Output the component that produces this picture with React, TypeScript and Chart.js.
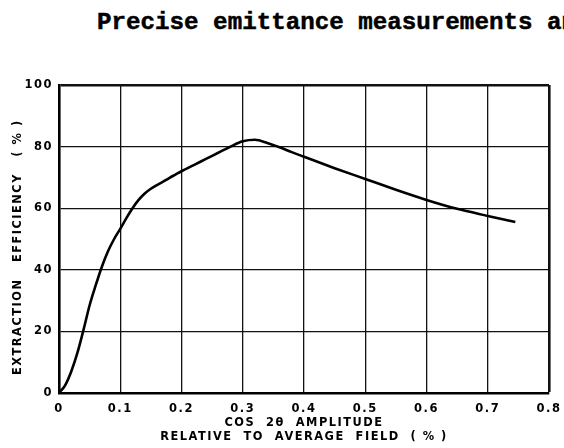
import { useEffect, useRef } from "react";
import { Chart, registerables } from "chart.js";

Chart.register(...registerables);

const titleText = "Precise emittance measurements and";
const xTicks = [0, 0.1, 0.2, 0.3, 0.4, 0.5, 0.6, 0.7, 0.8];
const yTicks = [0, 20, 40, 60, 80, 100];
const amplitude = [0, 0.01, 0.02, 0.03, 0.04, 0.05, 0.06, 0.07, 0.08, 0.09, 0.1, 0.11, 0.12, 0.13, 0.14, 0.15, 0.16, 0.17, 0.18, 0.19, 0.2, 0.22, 0.24, 0.26, 0.28, 0.3, 0.32, 0.34, 0.36, 0.38, 0.4, 0.45, 0.5, 0.55, 0.6, 0.65, 0.7, 0.745];
const efficiency = [0, 2.5, 7, 13, 20.5, 28.5, 35, 41, 46, 50, 53.3, 56.8, 60, 62.7, 64.8, 66.3, 67.5, 68.6, 69.8, 70.9, 72, 74, 76, 78, 80, 81.7, 82.2, 81.2, 79.8, 78.2, 76.7, 73, 69.5, 66, 62.7, 59.8, 57.5, 55.5];
const xTitle = ["COS  2θ  AMPLITUDE", "RELATIVE  TO  AVERAGE  FIELD  ( % )"];
const yTitle = "EXTRACTION   EFFICIENCY   ( % )   ";

const spacingPlugin = {
  id: "letterSpacingPlugin",
  beforeLayout(chart: any) {
    chart.ctx.letterSpacing = "1.5px";
  },
  beforeDraw(chart: any) {
    chart.ctx.letterSpacing = "1.5px";
  },
};

export default function App() {
  const ref = useRef<HTMLCanvasElement | null>(null);
  useEffect(() => {
    if (!ref.current) return;
    const tickFont = { family: "'DejaVu Sans', sans-serif", size: 11.5, weight: "bold" as const };
    const titleFont = { family: "'DejaVu Sans', sans-serif", size: 11.4, weight: "bold" as const, lineHeight: 1.2 };
    const chart = new Chart(ref.current, {
      type: "line",
      data: {
        datasets: [
          {
            data: amplitude.map((x, i) => ({ x, y: efficiency[i] })),
            borderColor: "#000",
            borderWidth: 2.6,
            pointRadius: 0,
            cubicInterpolationMode: "monotone",
            fill: false,
          },
        ],
      },
      options: {
        animation: false,
        responsive: false,
        layout: { padding: { top: 85, right: 15, bottom: 0, left: 0 } },
        plugins: { legend: { display: false }, tooltip: { enabled: false } },
        scales: {
          x: {
            type: "linear",
            min: xTicks[0],
            max: xTicks[xTicks.length - 1],
            afterBuildTicks: (s: any) => {
              s.ticks = xTicks.map((v) => ({ value: v }));
            },
            afterFit: (s: any) => {
              s.height = 55;
              s.paddingRight = 0;
              s.paddingLeft = 0;
            },
            ticks: {
              color: "#000",
              font: tickFont,
              padding: 9,
              maxRotation: 0,
              callback: (v: any) => (Number(v) === 0 ? "0" : Number(v).toFixed(1)),
            },
            grid: {
              color: "#111",
              lineWidth: (c: any) => (c.tick && c.tick.value >= 0.8 - 1e-9 ? 2.6 : 1.3),
              drawTicks: false,
            },
            border: { color: "#000", width: 2.6 },
            title: {
              display: true,
              text: xTitle,
              color: "#000",
              font: titleFont,
              padding: { top: 0, bottom: 4 },
            },
          },
          y: {
            type: "linear",
            min: yTicks[0],
            max: yTicks[yTicks.length - 1],
            afterBuildTicks: (s: any) => {
              s.ticks = yTicks.map((v) => ({ value: v }));
            },
            afterFit: (s: any) => {
              s.width = 59;
            },
            ticks: { color: "#000", font: tickFont, padding: 6 },
            grid: {
              color: "#111",
              lineWidth: (c: any) => (c.tick && c.tick.value >= 100 ? 2.6 : 1.3),
              drawTicks: false,
            },
            border: { color: "#000", width: 2.6 },
            title: {
              display: true,
              text: yTitle,
              color: "#000",
              font: titleFont,
              padding: { top: 11, bottom: 0 },
            },
          },
        },
      },
      plugins: [spacingPlugin],
    });
    return () => chart.destroy();
  }, []);

  return (
    <div style={{ position: "fixed", left: 0, top: 0, width: 564, height: 448, overflow: "hidden", background: "#fff" }}>
      <div
        style={{
          position: "absolute",
          left: 97,
          top: 10,
          whiteSpace: "nowrap",
          fontFamily: "'Liberation Mono', 'DejaVu Sans Mono', monospace",
          fontWeight: "bold",
          fontSize: 24.2,
          lineHeight: "26px",
          color: "#000",
          WebkitTextStroke: "0.5px #000",
        }}
      >
        {titleText}
      </div>
      <canvas ref={ref} width={564} height={448} style={{ position: "absolute", left: 0, top: 0 }} />
    </div>
  );
}
